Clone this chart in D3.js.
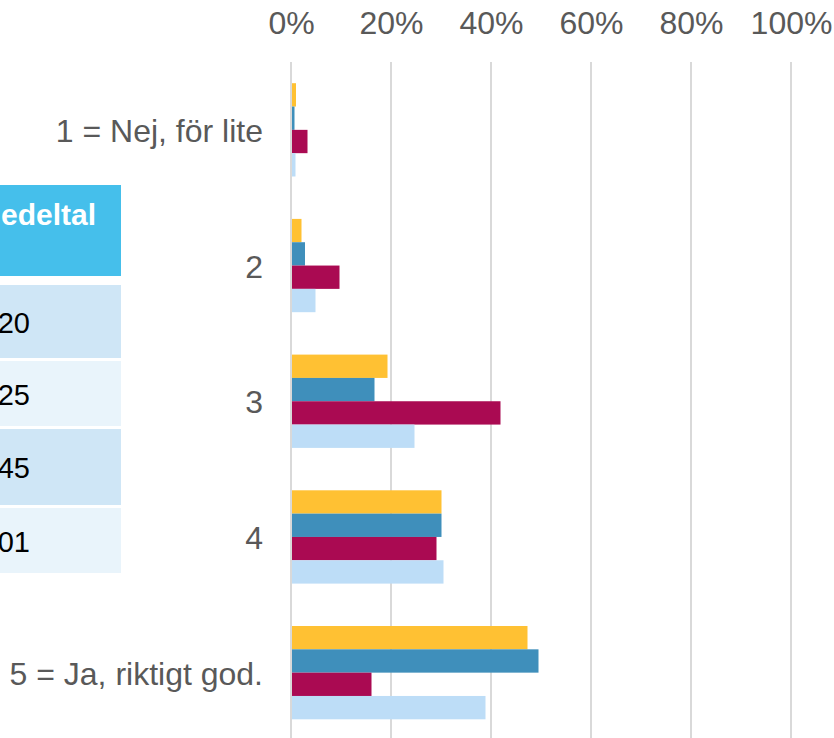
<!DOCTYPE html>
<html>
<head>
<meta charset="utf-8">
<script src="https://cdn.jsdelivr.net/npm/d3@7"></script>
<style>
  html, body { margin: 0; padding: 0; background: #fff; }
  svg { display: block; font-family: "Liberation Sans", Arial, sans-serif; }
</style>
</head>
<body>
<svg width="834" height="738"></svg>
<script>
// answer categories (y axis)
var categories = ["1 = Nej, för lite", "2", "3", "4", "5 = Ja, riktigt god."];
var seriesNames = ["s1", "s2", "s3", "s4"];
var seriesColors = ["#FFC133", "#3F8FBB", "#AA0A52", "#BDDDF7"];

// share per category, one array per series
var s1 = [0.010, 0.021, 0.193, 0.301, 0.473];
var s2 = [0.007, 0.028, 0.167, 0.301, 0.495];
var s3 = [0.033, 0.097, 0.419, 0.291, 0.161];
var s4 = [0.009, 0.049, 0.247, 0.305, 0.389];
var seriesValues = [s1, s2, s3, s4];

var xTicks = [0, 0.2, 0.4, 0.6, 0.8, 1];

// partly hidden table on the left
var tableHeader = "Medeltal";
var tableValues = ["4,20", "4,25", "3,45", "4,01"];

var svg = d3.select("svg");

var x = d3.scaleLinear()
    .domain([0, 1])
    .range([291, 791]);

var y = d3.scaleBand()
    .domain(categories)
    .range([62, 740.5])
    .paddingInner(0.3125)
    .paddingOuter(0.15625);

var ySub = d3.scaleBand()
    .domain(seriesNames)
    .range([0, y.bandwidth()]);

// table
var table = svg.append("g");
table.append("rect")
    .attr("x", -10).attr("y", 185)
    .attr("width", 131).attr("height", 91)
    .attr("fill", "#45BFEB");
table.append("text")
    .attr("x", 96).attr("y", 225)
    .attr("text-anchor", "end")
    .attr("fill", "#fff")
    .attr("font-weight", "bold")
    .attr("font-size", 30)
    .text(tableHeader);

var rowTops = [285, 361, 429, 508];
var rowBottoms = [358, 426, 505, 573];
var rowColors = ["#CFE6F6", "#E9F4FB", "#CFE6F6", "#E9F4FB"];
tableValues.forEach(function(v, i) {
  table.append("rect")
      .attr("x", -10).attr("y", rowTops[i])
      .attr("width", 131).attr("height", rowBottoms[i] - rowTops[i])
      .attr("fill", rowColors[i]);
  table.append("text")
      .attr("x", 30).attr("y", (rowTops[i] + rowBottoms[i]) / 2 + 11)
      .attr("text-anchor", "end")
      .attr("fill", "#000")
      .attr("font-size", 29)
      .text(v);
});

// gridlines
svg.append("g")
  .selectAll("line")
  .data(xTicks)
  .join("line")
    .attr("x1", function(d) { return x(d); })
    .attr("x2", function(d) { return x(d); })
    .attr("y1", 62)
    .attr("y2", 738)
    .attr("stroke", "#D9D9D9")
    .attr("stroke-width", 2);

// top axis labels
var xAxis = d3.axisTop(x)
    .tickValues(xTicks)
    .tickFormat(d3.format(".0%"))
    .tickSize(0)
    .tickPadding(0);

var gX = svg.append("g")
    .attr("transform", "translate(0,34)")
    .call(xAxis);
gX.select(".domain").remove();
gX.selectAll("text")
    .attr("dy", 0)
    .attr("font-size", 32)
    .attr("font-family", "Liberation Sans, Arial, sans-serif")
    .attr("fill", "#595959");

// bars
var groups = svg.append("g")
  .selectAll("g")
  .data(categories)
  .join("g")
    .attr("transform", function(d) { return "translate(0," + y(d) + ")"; });

groups.selectAll("rect")
  .data(function(d, i) {
    return seriesNames.map(function(s, j) { return { s: s, v: seriesValues[j][i], c: seriesColors[j] }; });
  })
  .join("rect")
    .attr("x", x(0) + 1)
    .attr("y", function(d) { return ySub(d.s); })
    .attr("width", function(d) { return x(d.v) - x(0) - 1; })
    .attr("height", ySub.bandwidth())
    .attr("fill", function(d) { return d.c; });

// category labels
svg.append("g")
  .selectAll("text")
  .data(categories)
  .join("text")
    .attr("x", 263)
    .attr("y", function(d) { return y(d) + y.bandwidth() / 2 + 12; })
    .attr("text-anchor", "end")
    .attr("font-size", 32)
    .attr("fill", "#595959")
    .text(function(d) { return d; });
</script>
</body>
</html>
